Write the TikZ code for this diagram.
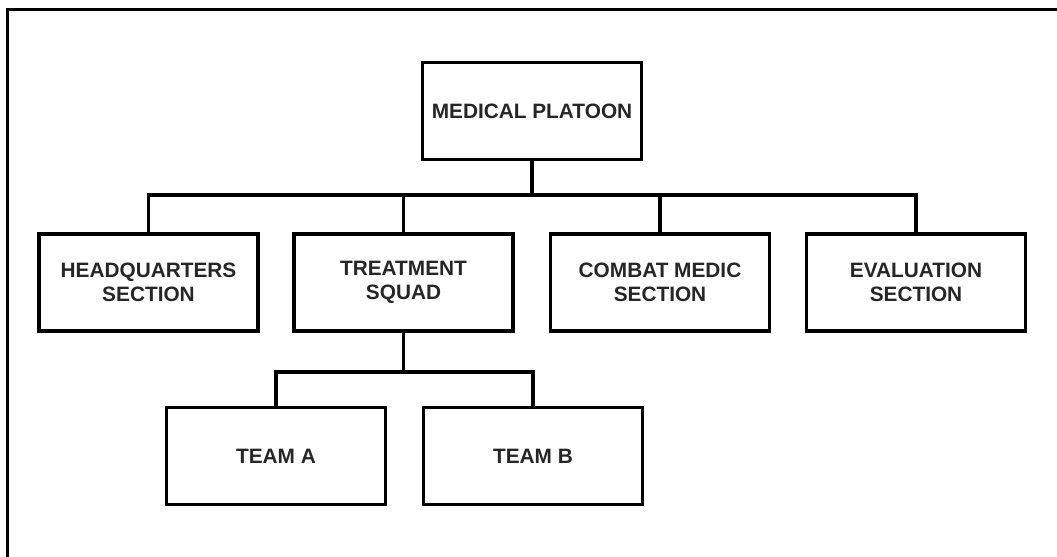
\documentclass[tikz,border=0pt]{standalone}
\usepackage{fontspec}
\setmainfont{Liberation Sans}

\tikzset{
  unit/.style={draw, line width=2.5pt, minimum width=5.47cm, minimum height=2.42cm,
    inner sep=0pt, align=center, text=black!85,
    font=\bfseries\fontsize{14.8}{17}\selectfont},
  link/.style={line width=2.5pt}
}

\begin{document}
\begin{tikzpicture}[x=0.025cm,y=-0.025cm]

\useasboundingbox (0,0) rectangle (1057,557);

% frame, cut by the page edge
\draw[line width=2.1pt] (1057,9.5) -- (7.5,9.5) -- (7.5,557);

\node[unit] (plt) at (532,111) {MEDICAL PLATOON};

\node[unit] (hq)   at (148.5,282.5) {HEADQUARTERS\\SECTION};
\node[unit] (trt)  at (403.5,282.5) {TREATMENT\\SQUAD};
\node[unit] (cms)  at (660,282.5)   {COMBAT MEDIC\\SECTION};
\node[unit] (eval) at (916,282.5)   {EVALUATION\\SECTION};

\node[unit] (tma) at (276,456) {TEAM A};
\node[unit] (tmb) at (533,456) {TEAM B};

\coordinate (bus1) at (0,195);
\coordinate (bus2) at (0,372);

\draw[link] (plt.south) -- (plt.south |- bus1);
\draw[link] (hq.north) -- (hq.north |- bus1) -- (eval.north |- bus1) -- (eval.north);
\draw[link] (trt.north) -- (trt.north |- bus1);
\draw[link] (cms.north) -- (cms.north |- bus1);

\draw[link] (trt.south) -- (trt.south |- bus2);
\draw[link] (tma.north) -- (tma.north |- bus2) -- (tmb.north |- bus2) -- (tmb.north);

\end{tikzpicture}
\end{document}
